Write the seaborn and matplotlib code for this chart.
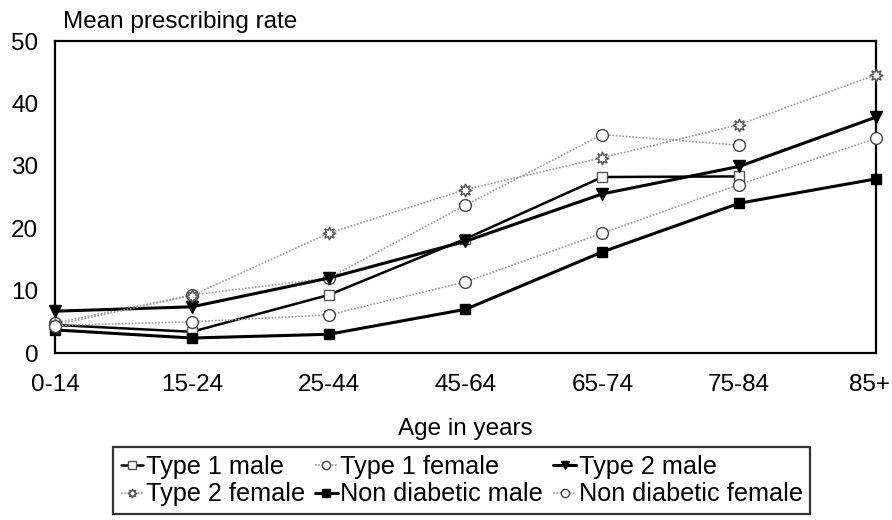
import numpy as np
import pandas as pd
import matplotlib
matplotlib.use("Agg")
import matplotlib.pyplot as plt
import matplotlib.transforms as mtransforms
import seaborn as sns

ages = ["0-14", "15-24", "25-44", "45-64", "65-74", "75-84", "85+"]
type1_male = [4.5, 3.4, 9.3, 18.3, 28.2, 28.3, np.nan]
type1_female = [4.8, 9.3, 12.0, 23.7, 35.0, 33.3, np.nan]
type2_male = [6.7, 7.4, 12.0, 17.9, 25.5, 29.9, 37.8]
type2_female = [4.5, 9.2, 19.2, 26.2, 31.3, 36.6, 44.6]
nondiab_male = [3.7, 2.4, 3.0, 7.0, 16.2, 24.0, 27.9]
nondiab_female = [4.4, 5.0, 6.1, 11.4, 19.2, 27.0, 34.4]

series = [
    ("Type 1 male", type1_male),
    ("Type 1 female", type1_female),
    ("Type 2 male", type2_male),
    ("Type 2 female", type2_female),
    ("Non diabetic male", nondiab_male),
    ("Non diabetic female", nondiab_female),
]

DOT = (0, (1, 1))
styles = {
    "Type 1 male": dict(color="black", lw=1.8, ls="-", marker="s", mfc="white", mec="#555555", ms=7.5, mew=1.0),
    "Type 1 female": dict(color="#9a9a9a", lw=1.2, ls=DOT, marker="o", mfc="white", mec="#444444", ms=8.5, mew=1.0),
    "Type 2 male": dict(color="black", lw=2.2, ls="-", marker="v", mfc="black", mec="black", ms=8.5, mew=1.0),
    "Type 2 female": dict(color="#9a9a9a", lw=1.2, ls=DOT, marker=(8, 1, 0), mfc="white", mec="#555555", ms=9.5, mew=1.0),
    "Non diabetic male": dict(color="black", lw=2.2, ls="-", marker="s", mfc="black", mec="black", ms=7.5, mew=1.0),
    "Non diabetic female": dict(color="#9a9a9a", lw=1.2, ls=DOT, marker="o", mfc="white", mec="#444444", ms=8.5, mew=1.0),
}

sns.set_style("white")
plt.rcParams["font.family"] = ["Liberation Sans", "DejaVu Sans"]
plt.rcParams["text.color"] = "black"
plt.rcParams["axes.labelcolor"] = "black"
plt.rcParams["xtick.color"] = "black"
plt.rcParams["ytick.color"] = "black"
FS = 17.5
LFS = 18.2

fig = plt.figure(figsize=(8.92, 5.2), dpi=100)
ax = fig.add_axes([55 / 892, 1 - 353 / 520, (876 - 55) / 892, (353 - 41) / 520])

x = np.arange(len(ages))
handles = {}
for name, vals in series:
    st = styles[name]
    df = pd.DataFrame({"x": x, "y": vals}).dropna()
    sns.lineplot(data=df, x="x", y="y", ax=ax, color=st["color"], linewidth=st["lw"],
                 linestyle=st["ls"], marker=st["marker"], markerfacecolor=st["mfc"],
                 markeredgecolor=st["mec"], markersize=st["ms"], markeredgewidth=st["mew"],
                 clip_on=False, zorder=3)
    h, = ax.plot([], [], color=st["color"], lw=st["lw"], ls=st["ls"],
                 marker=st["marker"], mfc=st["mfc"], mec=st["mec"], ms=st["ms"] * 0.7, mew=st["mew"])
    handles[name] = h

ax.set_xlim(0, 6)
ax.set_ylim(0, 50)
ax.set_xticks(x)
ax.set_xticklabels(ages, fontsize=FS)
ax.set_yticks([0, 10, 20, 30, 40, 50])
ax.set_yticklabels(["0", "10", "20", "30", "40", "50"], fontsize=FS)
ax.tick_params(axis="x", length=0, pad=15)
ax.tick_params(axis="y", length=0, pad=12)
lbls = ax.get_xticklabels()
lbls[-1].set_transform(lbls[-1].get_transform() + mtransforms.ScaledTranslation(-6 / 100, 0, fig.dpi_scale_trans))
ax.set_xlabel("Age in years", fontsize=FS, labelpad=16)
ax.set_ylabel("")
for sp in ax.spines.values():
    sp.set_visible(True)
    sp.set_color("black")
    sp.set_linewidth(1.6)

fig.text(63 / 892, 1 - 22 / 520, "Mean prescribing rate", fontsize=FS, va="center", ha="left")

order = ["Type 1 male", "Type 2 female", "Type 1 female", "Non diabetic male",
         "Type 2 male", "Non diabetic female"]
leg = fig.legend([handles[n] for n in order], order, ncol=3,
                 loc="upper left", bbox_to_anchor=(113 / 892, 1 - 447 / 520),
                 fontsize=LFS, frameon=True, fancybox=False, edgecolor="black",
                 handlelength=0.9, handletextpad=0.1, columnspacing=0.4, borderpad=0.3,
                 borderaxespad=0, labelspacing=0.15)
leg.get_frame().set_linewidth(1.6)

fig.savefig("out.png", dpi=100)
